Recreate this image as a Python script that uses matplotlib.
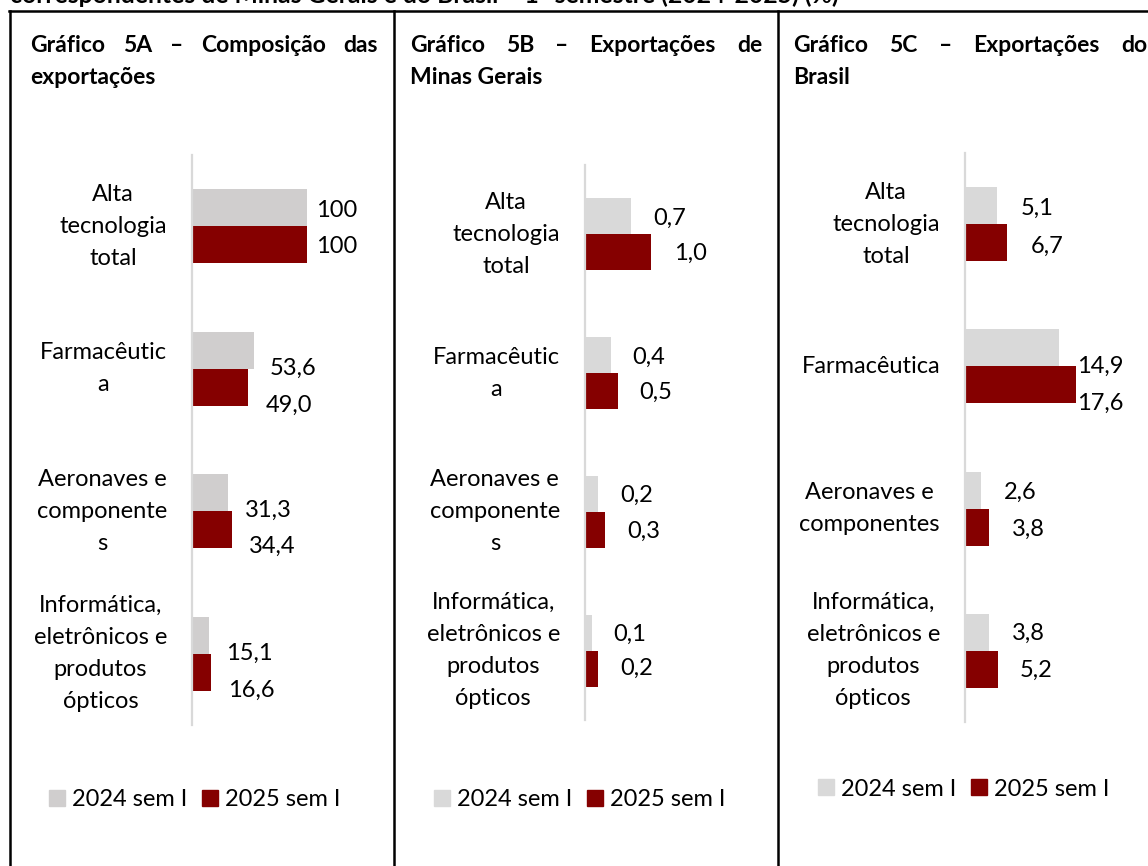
#!/usr/bin/env python3
"""
Exportações de alta tecnologia - Minas Gerais e Brasil (1º semestre)
"""

import matplotlib
matplotlib.use('Agg')
import matplotlib.pyplot as plt
from matplotlib.lines import Line2D
from matplotlib.patches import Patch

plt.rcParams['font.family'] = ['Lato', 'DejaVu Sans']

W, H = 1148, 866

# dados
series = ['2024 sem I', '2025 sem I']
cats_ab = ['Alta\ntecnologia\ntotal', 'Farmacêutic\na', 'Aeronaves e\ncomponente\ns',
           'Informática,\neletrônicos e\nprodutos\nópticos']
cats_c = ['Alta\ntecnologia\ntotal', 'Farmacêutica', 'Aeronaves e\ncomponentes',
          'Informática,\neletrônicos e\nprodutos\nópticos']

a_2024 = [100, 53.6, 31.3, 15.1]
a_2025 = [100, 49.0, 34.4, 16.6]
b_2024 = [0.7, 0.4, 0.2, 0.1]
b_2025 = [1.0, 0.5, 0.3, 0.2]
c_2024 = [5.1, 14.9, 2.6, 3.8]
c_2025 = [6.7, 17.6, 3.8, 5.2]

titulo_topo = 'correspondentes de Minas Gerais e do Brasil \u2013 1º semestre (2024-2025) (%)'
titulos = [('Gráfico 5A \u2013 Composição das', 'exportações'),
           ('Gráfico 5B \u2013 Exportações de', 'Minas Gerais'),
           ('Gráfico 5C \u2013 Exportações do', 'Brasil')]

CINZA = '#D9D9D9'
CINZA_A = '#D0CECE'
VERMELHO = '#850000'
FS = 17
FS_TIT = 16.5


def fx(x):
    return x / W


def fy(y):
    return 1 - y / H


def fmt(v):
    if v == 100:
        return '100'
    return f'{v:.1f}'.replace('.', ',')


fig = plt.figure(figsize=(W / 100, H / 100), dpi=100)

# linhas da tabela
lw = 1.8
fig.add_artist(Line2D([fx(9), fx(1148)], [fy(11), fy(11)], color='black', lw=lw))
for xv in [10, 394, 778]:
    fig.add_artist(Line2D([fx(xv), fx(xv)], [fy(11), fy(866)], color='black', lw=lw))

# linha de título cortada no topo
fig.text(fx(10), fy(3), titulo_topo, fontsize=17.8, fontweight='bold', va='baseline', ha='left')

# títulos justificados
renderer = fig.canvas.get_renderer()
for (linha1, linha2), (x0, x1) in zip(titulos, [(30, 378), (410, 762), (793, 1147)]):
    palavras = linha1.split(' ')
    txts = [fig.text(0, fy(45), p, fontsize=FS_TIT, fontweight='bold', va='center', ha='left')
            for p in palavras]
    larguras = [t.get_window_extent(renderer).width for t in txts]
    gap = (x1 - x0 - sum(larguras)) / (len(palavras) - 1)
    x = x0
    for t, w in zip(txts, larguras):
        t.set_x(fx(x))
        x += w + gap
    fig.text(fx(x0), fy(77), linha2, fontsize=FS_TIT, fontweight='bold', va='center', ha='left')

# paineis: (esquerda, topo, base, largura, px por unidade)
paineis = [
    (cats_ab, a_2024, a_2025, (192, 155, 725, 185, 1.15), CINZA_A,
     [(9, 3), (16, 18), (17, 18), (17, 18)], [(9, 2), (17, 18), (17, 17), (17, 18)],
     (195, 800)),
    (cats_ab, b_2024, b_2025, (585, 165, 720, 185, 66.0), CINZA,
     [(22, 2), (21, 2), (22, 2), (22, 2)], [(23, 1), (21, 1), (22, 1), (22, 0)],
     (580, 800)),
    (cats_c, c_2024, c_2025, (965, 153, 722, 180, 6.33), CINZA,
     [(23, 3), (18, 18), (22, 2), (23, 1)], [(23, 4), (1, 18), (23, 2), (22, 1)],
     (964, 789)),
]

for cats, v24, v25, (left, top, bot, width, scale), cor24, off24, off25, (lgx, lgy) in paineis:
    ax = fig.add_axes([fx(left), fy(bot), width / W, (bot - top) / H])
    pos = list(range(len(cats)))
    h = 0.26
    b1 = ax.barh([p - h / 2 for p in pos], v24, height=h, color=cor24, label=series[0])
    b2 = ax.barh([p + h / 2 for p in pos], v25, height=h, color=VERMELHO, label=series[1])
    ax.set_xlim(0, width / scale)
    ax.set_ylim(3.5, -0.5)
    ax.set_yticks(pos)
    ax.set_yticklabels(cats, fontsize=FS, linespacing=1.65)
    for t in ax.get_yticklabels():
        t.set_multialignment('center')
        t.set_verticalalignment('center')
    ax.tick_params(axis='y', length=0, pad=18)
    ax.xaxis.set_visible(False)
    for s in ['top', 'right', 'bottom']:
        ax.spines[s].set_visible(False)
    ax.spines['left'].set_color(CINZA)
    ax.spines['left'].set_linewidth(1.6)
    ax.patch.set_alpha(0)

    for bars, vals, offs in [(b1, v24, off24), (b2, v25, off25)]:
        for rect, v, (dx, dy) in zip(bars, vals, offs):
            yc = rect.get_y() + rect.get_height() / 2
            ax.annotate(fmt(v), (v, yc), xytext=(dx, -dy), textcoords='offset pixels',
                        ha='left', va='center', fontsize=FS, annotation_clip=False)

    handles = [Patch(color=cor24), Patch(color=VERMELHO)]
    fig.legend(handles, series, loc='center', bbox_to_anchor=(fx(lgx), fy(lgy)),
               ncol=2, frameon=False, fontsize=FS, handlelength=0.64, handleheight=0.64,
               handletextpad=0.32, columnspacing=0.64, borderpad=0, borderaxespad=0)

plt.savefig('out.png', dpi=100)
